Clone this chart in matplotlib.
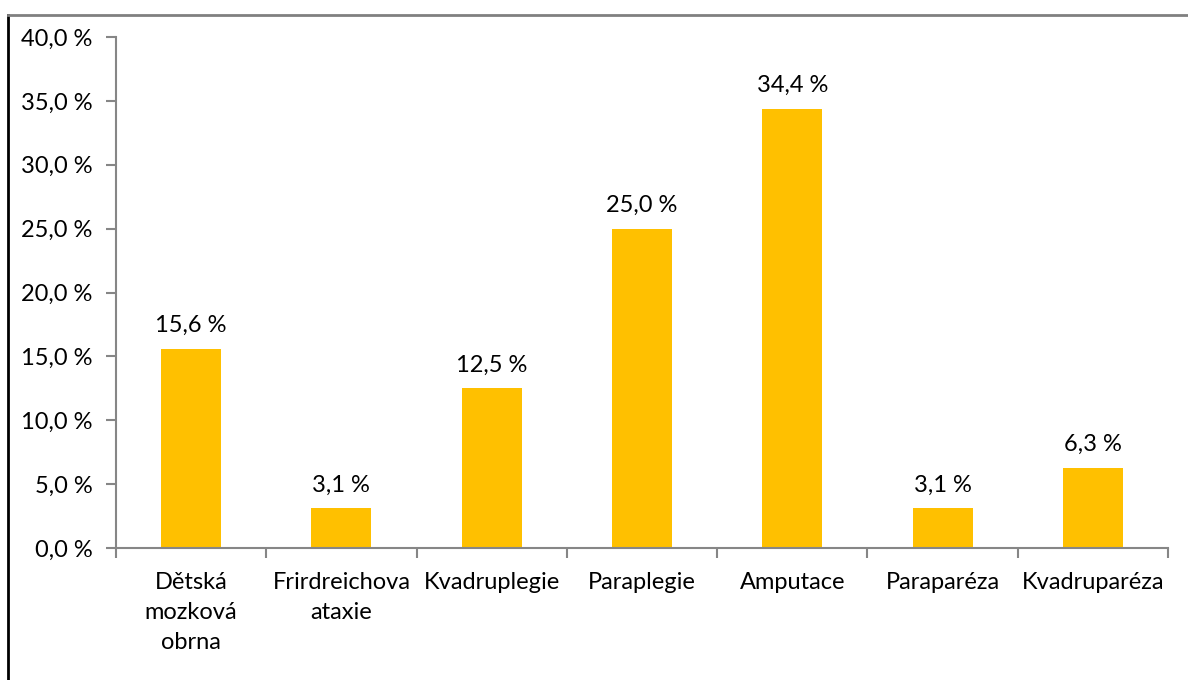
import matplotlib.pyplot as plt
import matplotlib.lines as mlines
import numpy as np

categories = ["Dětská\nmozková\nobrna", "Frirdreichova\nataxie", "Kvadruplegie",
              "Paraplegie", "Amputace", "Paraparéza", "Kvadruparéza"]
values = [15.6, 3.1, 12.5, 25.0, 34.4, 3.1, 6.3]
yticks = [0, 5, 10, 15, 20, 25, 30, 35, 40]

plt.rcParams["font.family"] = ["Lato", "DejaVu Sans"]
plt.rcParams["font.size"] = 17

fig = plt.figure(figsize=(11.88, 6.8), dpi=100)
ax = fig.add_axes([116 / 1188, 1 - 548 / 680, (1168 - 116) / 1188, (548 - 37) / 680])

x = np.arange(len(categories))
bars = ax.bar(x, values, width=0.4, color="#FFC000", zorder=2)

def fmt(v):
    return f"{v:.1f}".replace(".", ",") + " %"

for xi, v in zip(x, values):
    ax.annotate(fmt(v), (xi, v), xytext=(0, 9), textcoords="offset points",
                ha="center", va="bottom")

ax.set_xlim(-0.5, len(categories) - 0.5)
ax.set_ylim(0, 40)
ax.set_yticks(yticks)
ax.set_yticklabels([fmt(t) for t in yticks])
ax.set_xticks(x)
ax.set_xticklabels(categories, linespacing=1.55, va="top")
ax.set_xticks(np.arange(len(categories) + 1) - 0.5, minor=True)
ax.tick_params(axis="x", which="major", length=0, pad=17)
ax.tick_params(axis="x", which="minor", length=7, width=1.5, color="#868686")
ax.tick_params(axis="y", length=7, width=1.5, color="#868686", pad=10)

for side in ["top", "right"]:
    ax.spines[side].set_visible(False)
for side in ["left", "bottom"]:
    ax.spines[side].set_color("#868686")
    ax.spines[side].set_linewidth(1.5)

# outer frame (left and top edges)
fig.add_artist(mlines.Line2D([8 / 1188, 8 / 1188], [0, 1 - 15 / 680],
                             color="black", lw=2, transform=fig.transFigure))
fig.add_artist(mlines.Line2D([8 / 1188, 1], [1 - 15 / 680, 1 - 15 / 680],
                             color="#808080", lw=2, transform=fig.transFigure))

fig.savefig("out.png", dpi=100)
